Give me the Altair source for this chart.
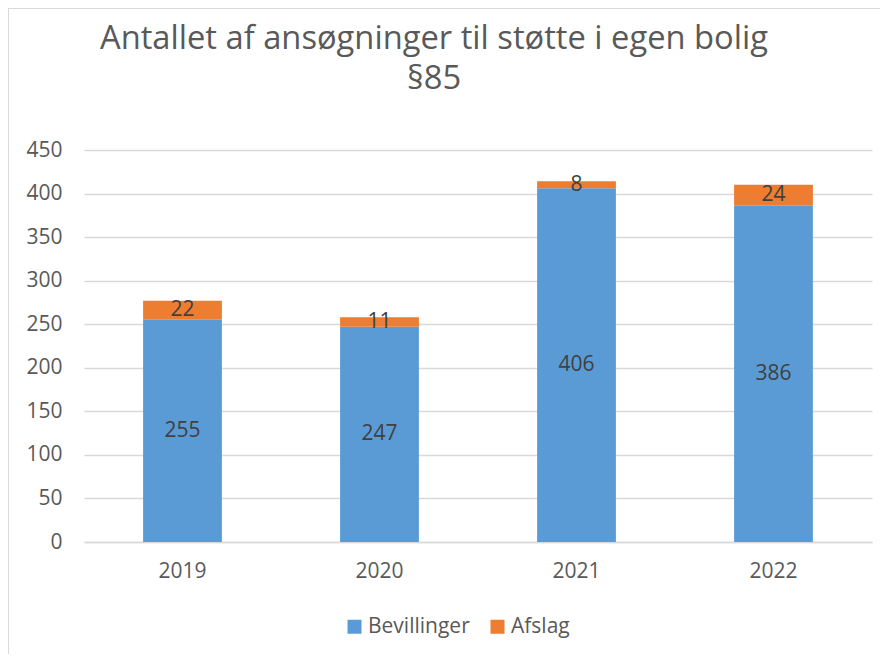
import altair as alt
import pandas as pd

years = ["2019", "2020", "2021", "2022"]
bevillinger = [255, 247, 406, 386]
afslag = [22, 11, 8, 24]
series = ["Bevillinger", "Afslag"]
colors = ["#5B9BD5", "#ED7D31"]
y_ticks = [0, 50, 100, 150, 200, 250, 300, 350, 400, 450]

rows = []
for i, y in enumerate(years):
    rows.append({"year": y, "series": "Bevillinger", "value": bevillinger[i], "ord": 0})
    rows.append({"year": y, "series": "Afslag", "value": afslag[i], "ord": 1})
df = pd.DataFrame(rows)

FONT = "Open Sans"
FS = 21

base = alt.Chart(df).transform_stack(
    stack="value", groupby=["year"], sort=[{"field": "ord", "order": "ascending"}], as_=["v0", "v1"]
).transform_calculate(mid="(datum.v0 + datum.v1) / 2")

xenc = alt.X(
    "year:N",
    sort=years,
    title=None,
    scale=alt.Scale(paddingInner=0.6, paddingOuter=0.3),
    axis=alt.Axis(
        labelAngle=0, labelFont=FONT, labelFontSize=FS, labelColor="#595959",
        labelPadding=18, ticks=False, domainColor="#d9d9d9", domainWidth=1.3, grid=False,
    ),
)

bars = base.mark_bar().encode(
    x=xenc,
    y=alt.Y(
        "v0:Q",
        title=None,
        scale=alt.Scale(domain=[0, 450], nice=False),
        axis=alt.Axis(
            values=y_ticks, labelFont=FONT, labelFontSize=FS, labelColor="#595959",
            labelPadding=22, ticks=False, domain=False, gridColor="#d9d9d9", gridWidth=1.3,
        ),
    ),
    y2="v1:Q",
    color=alt.Color(
        "series:N",
        scale=alt.Scale(domain=series, range=colors),
        legend=alt.Legend(
            title=None, orient="none", direction="horizontal", legendX=260, legendY=466,
            symbolType="square", symbolSize=196, symbolStrokeWidth=0, labelFont=FONT,
            labelFontSize=FS, labelColor="#595959", columnPadding=17, labelOffset=3,
        ),
    ),
    order=alt.Order("ord:Q"),
)

labels = base.mark_text(font=FONT, fontSize=FS, color="#404040", baseline="middle").encode(
    x=alt.X("year:N", sort=years),
    y=alt.Y("mid:Q"),
    text=alt.Text("value:Q"),
)

border_data = alt.Data(values=[{"k": 1}])
left_border = alt.Chart(border_data).mark_rule(color="#d9d9d9", strokeWidth=1).encode(
    x=alt.value(-75.5), y=alt.value(-142), y2=alt.value(504)
)
top_border = alt.Chart(border_data).mark_rule(color="#d9d9d9", strokeWidth=1).encode(
    x=alt.value(-76), x2=alt.value(796), y=alt.value(-141.5)
)

chart = alt.layer(bars, labels, left_border, top_border).properties(
    width=788,
    height=392,
    padding={"left": 76, "top": 142, "right": 8, "bottom": 112},
    autosize=alt.AutoSizeParams(type="none"),
    title=alt.TitleParams(
        text=["Antallet af ansøgninger til støtte i egen bolig", "§85"],
        font=FONT, fontSize=32.7, fontWeight="normal", color="#595959",
        anchor="middle", dx=-44, offset=0, dy=88, lineHeight=40,
    ),
).configure_view(stroke=None)

chart.save("out.html", embed_options={"renderer": "svg", "actions": False})
